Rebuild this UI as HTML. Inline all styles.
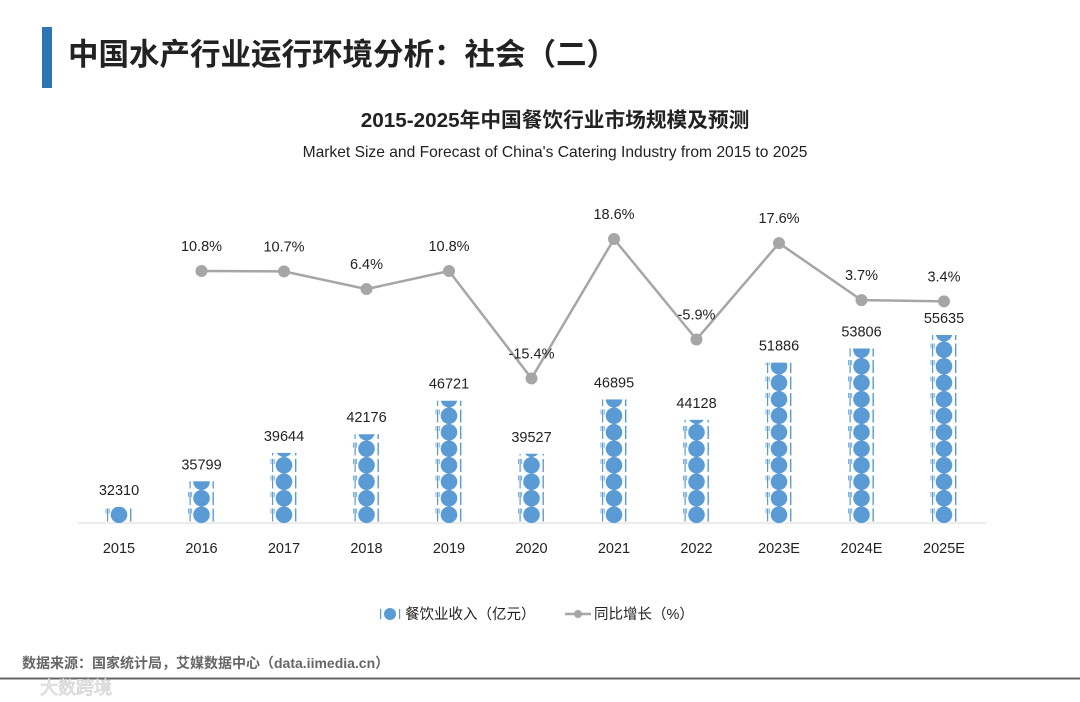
<!DOCTYPE html>
<html><head><meta charset="utf-8"><style>
body{margin:0;width:1080px;height:702px;background:#fff;overflow:hidden;font-family:"Liberation Sans","Noto Sans CJK SC",sans-serif;}
svg{position:absolute;left:0;top:0}
</style></head><body>
<svg width="1080" height="702">
<defs>
<pattern id="plate" patternUnits="userSpaceOnUse" x="0" y="523" width="30" height="16.5">
<circle cx="15" cy="8.25" r="8.3" fill="#5b9bd5"/>
<rect x="3" y="2" width="1.2" height="13" fill="#5b9bd5"/>
<rect x="1.6" y="2" width="0.8" height="5" fill="#5b9bd5"/>
<rect x="4.8" y="2" width="0.8" height="5" fill="#5b9bd5"/>
<rect x="26" y="2" width="1.4" height="13" fill="#5b9bd5"/>
</pattern>
</defs>
<rect x="42" y="27" width="10" height="61" fill="#2e75b6"/>
<text x="68" y="65" font-size="30.5" font-weight="bold" fill="#222">中国水产行业运行环境分析：社会（二）</text>
<text x="555" y="127" text-anchor="middle" font-size="20.7" font-weight="bold" fill="#222">2015-2025年中国餐饮行业市场规模及预测</text>
<text x="555" y="157" text-anchor="middle" font-size="15.6" fill="#222">Market Size and Forecast of China's Catering Industry from 2015 to 2025</text>
<line x1="78" y1="523" x2="986" y2="523" stroke="#d9d9d9" stroke-width="1"/>
<g id="bars"></g><g id="line"></g><g id="labels"></g>
<g>
<circle cx="390" cy="614" r="6" fill="#5b9bd5"/>
<rect x="380" y="609" width="1.2" height="10" fill="#5b9bd5"/><rect x="399" y="609" width="1.2" height="10" fill="#5b9bd5"/>
<text x="405" y="619" font-size="14.5" fill="#222">餐饮业收入（亿元）</text>
<line x1="565" y1="614" x2="591" y2="614" stroke="#a6a6a6" stroke-width="2.5"/>
<circle cx="578" cy="614" r="4" fill="#a6a6a6"/>
<text x="594" y="619" font-size="14.5" fill="#222">同比增长（%）</text>
</g>
<text x="22" y="668" font-size="14" font-weight="bold" fill="#666">数据来源：国家统计局，艾媒数据中心（data.iimedia.cn）</text>
<line x1="0" y1="678.5" x2="1080" y2="678.5" stroke="#666" stroke-width="2"/>
<text x="40" y="694" font-size="18" fill="#eee" stroke="#ccc" stroke-width="0.6">大数跨境</text>
</svg>
<script>
const categories=["2015","2016","2017","2018","2019","2020","2021","2022","2023E","2024E","2025E"];
const revenue=[32310,35799,39644,42176,46721,39527,46895,44128,51886,53806,55635];
const growth=[null,10.8,10.7,6.4,10.8,-15.4,18.6,-5.9,17.6,3.7,3.4];
const NS="http://www.w3.org/2000/svg";
function xPos(i){return 119+i*82.5;}
function yBar(v){return 523-(v-30140)*0.007374;}
function yLine(v){return 315.3-4.1*v;}
function mk(tag,attrs,parent,txt){const e=document.createElementNS(NS,tag);for(const k in attrs)e.setAttribute(k,attrs[k]);if(txt!==undefined)e.textContent=txt;parent.appendChild(e);return e;}
const gb=document.getElementById('bars'),gl=document.getElementById('line'),gt=document.getElementById('labels');
const defs=document.querySelector('defs');
categories.forEach((c,i)=>{
  const x=xPos(i),top=yBar(revenue[i]);
  const p=document.getElementById('plate').cloneNode(true);
  p.setAttribute('id','plate'+i);
  p.setAttribute('x',x-15);
  defs.appendChild(p);
  const r=mk('rect',{x:x-15,y:top,width:30,height:523-top,fill:'url(#plate'+i+')'},gb);
  
  
  const t=mk('text',{x:x,y:top-12,'text-anchor':'middle','font-size':14.5,fill:'#222'},gt,String(revenue[i]));
  
  
  const xl=mk('text',{x:x,y:553,'text-anchor':'middle','font-size':14.5,fill:'#222'},gt,c);
  
  
});
let pts=[];
growth.forEach((g,i)=>{if(g!==null)pts.push([xPos(i),yLine(g),g,i]);});
const pl=mk('polyline',{points:pts.map(p=>p[0]+','+p[1]).join(' '),fill:'none',stroke:'#a6a6a6','stroke-width':2.5},gl);


pts.forEach(p=>{
  const c=mk('circle',{cx:p[0],cy:p[1],r:6,fill:'#a6a6a6'},gl);
  
  
  const t=mk('text',{x:p[0],y:p[1]-20,'text-anchor':'middle','font-size':14.5,fill:'#222'},gt,p[2].toFixed(1)+'%');
  
  
});
</script>
</body></html>
